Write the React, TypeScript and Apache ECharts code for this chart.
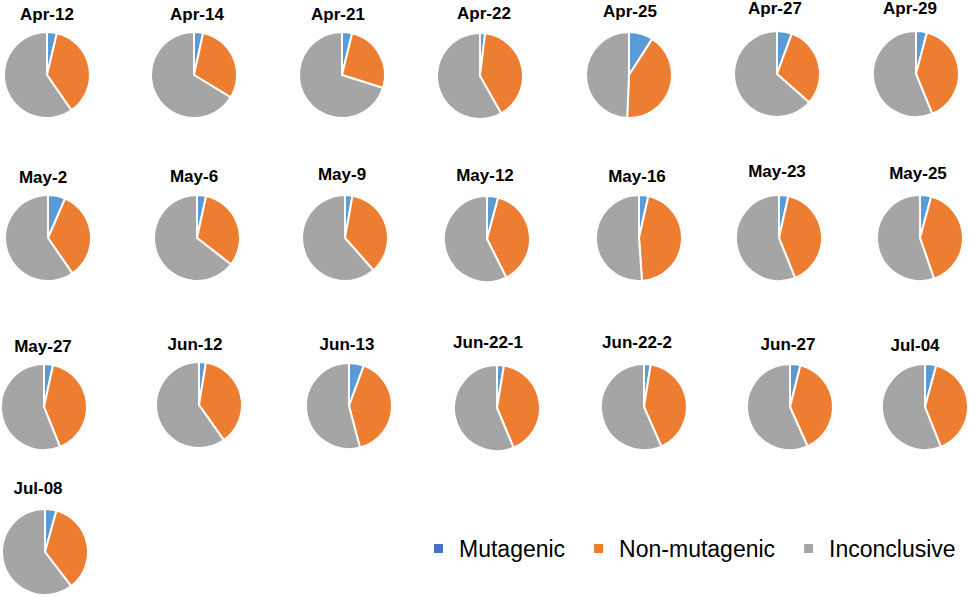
import React, { useEffect, useRef } from "react";
import * as echarts from "echarts";

const categories = [
  "Apr-12", "Apr-14", "Apr-21", "Apr-22", "Apr-25", "Apr-27", "Apr-29",
  "May-2", "May-6", "May-9", "May-12", "May-16", "May-23", "May-25",
  "May-27", "Jun-12", "Jun-13", "Jun-22-1", "Jun-22-2", "Jun-27", "Jul-04",
  "Jul-08",
];
const seriesNames = ["Mutagenic", "Non-mutagenic", "Inconclusive"];
const mutagenic = [
  3.7, 3.4, 3.8, 1.9, 9.1, 5.6, 4.1,
  6.5, 3.4, 2.8, 4.2, 3.5, 3.5, 4.2,
  3.4, 2.6, 5.6, 2.6, 2.5, 3.9, 4.2,
  4.3,
];
const nonMutagenic = [
  36.7, 30.3, 26.1, 39.9, 41.6, 30.9, 39.7,
  33.9, 32.1, 35.7, 38.4, 45.4, 40.4, 40.5,
  40.5, 37.6, 40.3, 41.1, 40.9, 39.4, 39.8,
  35.3,
];
const inconclusive = [
  59.6, 66.3, 70.1, 58.2, 49.3, 63.5, 56.2,
  59.6, 64.5, 61.5, 57.4, 51.1, 56.1, 55.3,
  56.1, 59.8, 54.1, 56.3, 56.6, 56.7, 56.0,
  60.4,
];

// layout (pixel positions of each pie centre and its title)
const pieCenters: [number, number][] = [
  [47, 75], [194, 75], [342, 75], [480, 76], [629, 75], [777, 74], [916, 74],
  [48, 238], [197, 238], [345, 238], [487, 239], [639, 238], [779, 238], [920, 238],
  [44, 407], [199, 405], [349, 406], [497, 408], [644, 407], [790, 407], [925, 407],
  [45, 552],
];
const titleCenters: [number, number][] = [
  [47, 15], [197, 15], [338, 15], [484, 14], [630, 12], [775, 9], [910, 8],
  [43, 178], [194, 177], [342, 175], [485, 176], [637, 177], [777, 172], [918, 174],
  [43, 347], [195, 345], [347, 345], [488, 343], [637, 343], [788, 345], [915, 346],
  [38, 489],
];

const pieColors = ["#5B9BD5", "#ED7D31", "#A5A5A5"];
const legendColors = ["#4472C4", "#ED7D31", "#A5A5A5"];

export default function App() {
  const ref = useRef<HTMLDivElement>(null);

  useEffect(() => {
    document.body.style.margin = "0";
    if (!ref.current) return;
    const chart = echarts.init(ref.current, null, { renderer: "svg" });
    const valueSets = [mutagenic, nonMutagenic, inconclusive];

    const series = categories.map((cat, i) => ({
      type: "pie",
      name: cat,
      center: pieCenters[i],
      radius: 43,
      startAngle: 90,
      clockwise: true,
      label: { show: false },
      labelLine: { show: false },
      emphasis: { disabled: true },
      itemStyle: { borderColor: "#ffffff", borderWidth: 2 },
      data: seriesNames.map((n, k) => ({
        name: n,
        value: valueSets[k][i],
        itemStyle: { color: pieColors[k] },
      })),
    }));

    const titles = categories.map((cat, i) => ({
      text: cat,
      left: titleCenters[i][0],
      top: Math.max(0, titleCenters[i][1] - 9),
      textAlign: "center",
      padding: 0,
      textStyle: {
        fontFamily: "Liberation Sans, Arial, sans-serif",
        fontSize: 17,
        fontWeight: "bold",
        color: "#000000",
      },
    }));

    chart.setOption({
      animation: false,
      backgroundColor: "#ffffff",
      title: titles,
      legend: {
        left: 432,
        top: 537,
        padding: 0,
        icon: "rect",
        itemWidth: 11,
        itemHeight: 11,
        itemGap: 27,
        selectedMode: false,
        textStyle: {
          fontFamily: "Liberation Sans, Arial, sans-serif",
          fontSize: 23,
          color: "#000000",
          padding: [0, 0, 0, 10],
        },
        data: seriesNames.map((n, k) => ({
          name: n,
          itemStyle: { color: legendColors[k] },
        })),
      },
      series,
    });

    return () => chart.dispose();
  }, []);

  return <div ref={ref} style={{ width: 969, height: 597 }} />;
}
